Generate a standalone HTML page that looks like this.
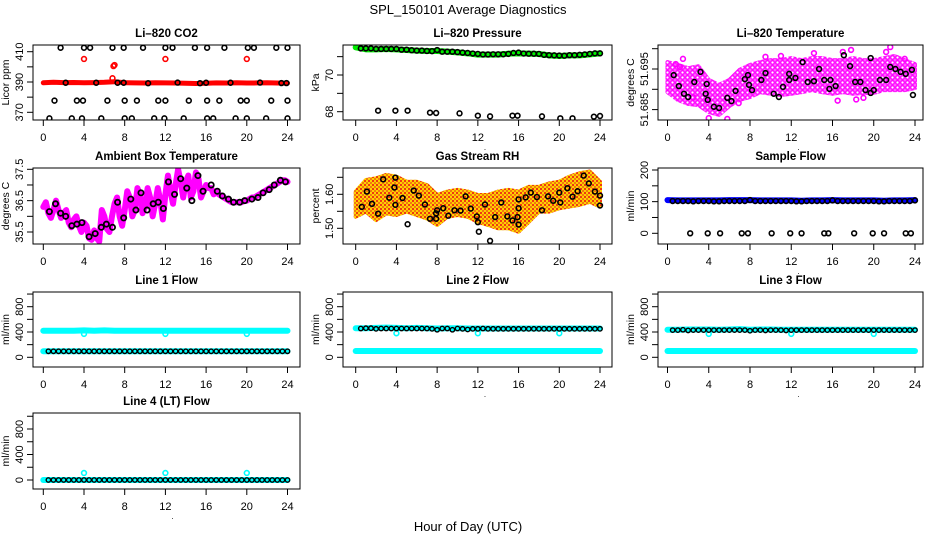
<!DOCTYPE html>
<html><head><meta charset="utf-8"><title>SPL_150101 Average Diagnostics</title>
<style>
html,body{margin:0;padding:0;background:#fff;}
svg{display:block;font-family:"Liberation Sans",Arial,sans-serif;}
</style></head>
<body>
<svg id="chart" width="936" height="540" viewBox="0 0 936 540" xmlns="http://www.w3.org/2000/svg">
<defs>
<pattern id="pat-magenta" width="5" height="5" patternUnits="userSpaceOnUse">
<rect width="5" height="5" fill="#ff66ff"/>
<circle cx="2.5" cy="2.5" r="1.8" fill="#fff" stroke="#ff00ff" stroke-width="1.3"/>
</pattern>
<pattern id="pat-orange" width="4" height="4" patternUnits="userSpaceOnUse">
<rect width="4" height="4" fill="#ffd000"/>
<rect x="0" y="0" width="2" height="2" fill="#ee3a10"/>
<rect x="2" y="2" width="2" height="2" fill="#f07a10"/>
</pattern>
</defs>
<text x="468" y="14" text-anchor="middle" font-size="13">SPL_150101  Average Diagnostics</text>
<text x="468" y="531" text-anchor="middle" font-size="13">Hour of Day (UTC)</text>
</svg>
<script>
// ---------- data ----------
const xTicks=[0,4,8,12,16,20,24];
const halfHours=[0.5,1,1.5,2,2.5,3,3.5,4,4.5,5,5.5,6,6.5,7,7.5,8,8.5,9,9.5,10,10.5,11,11.5,12,12.5,13,13.5,14,14.5,15,15.5,16,16.5,17,17.5,18,18.5,19,19.5,20,20.5,21,21.5,22,22.5,23,23.5,24];
const hours=[0,1,2,3,4,5,6,7,8,9,10,11,12,13,14,15,16,17,18,19,20,21,22,23,24];

// CO2
const co2Red=[389.5,389.8,389.6,389.7,389.5,389.6,389.8,390.2,389.5,389.4,389.3,389.5,389.4,389.3,389.2,389.0,389.2,389.4,389.3,389.5,389.3,389.4,389.5,389.3,389.2];
const co2RedOutHours=[4,12,20,6.9,7.0,6.8];
const co2RedOutVals=[405.2,405.2,405.2,400.5,401.2,392.5];
const co2BlkHours=[1.7,4.0,4.6,6.8,7.9,9.8,12.0,12.7,14.9,16.1,17.8,20.1,20.7,22.9,24.0, 2.2,5.2,7.3,7.9,10.3,13.2,15.4,16.0,18.4,21.3,23.4,23.9, 1.1,3.3,3.9,6.3,8.0,9.2,11.3,12.0,14.3,16.1,17.3,19.4,20.0,22.4,24.0, 0.6,2.8,3.8,5.7,8.0,8.7,10.9,11.9,13.8,16.1,16.7,18.9,20.0,21.9,24.0];
const co2BlkVals=[412.6,412.6,412.6,412.6,412.6,412.6,412.6,412.6,412.6,412.6,412.6,412.6,412.6,412.6,412.6, 389.5,389.5,389.5,389.5,389.2,389.6,389.2,389.5,389.5,389.6,389.3,389.3, 377.7,377.7,377.7,377.7,377.7,377.7,377.7,377.7,377.7,377.7,377.7,377.7,377.7,377.7,377.7, 366,366,366,366,366,366,366,366,366,366,366,366,366,366,366];

// Pressure
const presGreen=[71.508,71.399,71.399,71.417,71.399,71.362,71.326,71.308,71.308,71.271,71.235,71.181,71.108,71.108,71.108,71.162,71.181,71.162,71.144,71.072,71.035,71.072,71.072,71.126,71.181];
const presBlkBand=[71.45,71.45,71.45,71.42,71.42,71.42,71.42,71.42,71.38,71.38,71.35,71.33,71.33,71.31,71.30,71.36,71.27,71.27,71.27,71.25,71.22,71.20,71.17,71.15,71.12,71.12,71.13,71.13,71.13,71.15,71.20,71.22,71.17,71.16,71.16,71.15,71.10,71.08,71.07,71.06,71.05,71.08,71.08,71.10,71.12,71.15,71.18,71.18];
const presLowHours=[2.2,3.9,5.1,7.3,7.9,10.2,12.0,13.2,15.4,15.9,18.3,20.1,21.3,23.4,24.0];
const presLowVals=[68.056,68.056,68.056,67.947,67.929,67.911,67.784,67.747,67.784,67.784,67.747,67.639,67.639,67.729,67.765];

// Li-820 temperature
const ltLow=[51.6893,51.6874,51.6864,51.6861,51.6844,51.6837,51.6859,51.6874,51.6881,51.6893,51.6889,51.6886,51.6889,51.6893,51.6898,51.6893,51.6889,51.6893,51.6889,51.6891,51.6891,51.6898,51.6898,51.6898,51.6903];
const ltHigh=[51.6967,51.6960,51.6952,51.6957,51.6923,51.6911,51.6923,51.6948,51.6960,51.6967,51.6972,51.6972,51.6977,51.6972,51.6977,51.6977,51.6972,51.6972,51.6977,51.6972,51.6972,51.6977,51.6982,51.6972,51.6962];
const ltOutHours=[0.8,1.5,4.0,5.8,9.5,11.0,14.2,17.0,17.8,21.6,21.2,23.0,1.2,2.5,6.9,16.5,18.3,19.0];
const ltOutVals=[51.6962,51.6975,51.6829,51.6827,51.6980,51.6982,51.6989,51.6992,51.6997,51.7004,51.6992,51.6975,51.6955,51.6880,51.6866,51.6872,51.6875,51.6879];
const ltBlkHours=[0.6,1.1,1.6,2.0,2.6,3.2,3.7,3.8,3.9,4.5,5.0,5.8,6.2,6.6,7.5,7.8,7.9,8.2,9.1,9.5,10.3,10.8,11.2,11.8,11.8,12.4,13.1,13.6,14.2,14.7,15.2,15.8,15.7,16.3,17.1,17.7,18.2,18.7,19.2,19.7,19.7,20.0,20.6,21.2,21.6,22.1,22.6,23.1,23.7,23.8];
const ltBlkVals=[51.6935,51.6908,51.6889,51.6881,51.6918,51.6943,51.6889,51.6913,51.6874,51.6857,51.6854,51.6879,51.6871,51.6896,51.6925,51.6935,51.6911,51.6898,51.6923,51.6940,51.6889,51.6881,51.6906,51.6923,51.6938,51.6928,51.6967,51.6918,51.6920,51.6950,51.6923,51.6923,51.6901,51.6908,51.6984,51.6957,51.6918,51.6918,51.6898,51.6977,51.6891,51.6898,51.6923,51.6923,51.6955,51.6950,51.6943,51.6938,51.6948,51.6886];

// Ambient box temperature (quarter-hour)
const ambPink=[36.3,36.45,36.1,35.95,36.2,36.5,36.2,35.95,36.1,36.2,35.8,35.65,35.9,36.0,35.7,35.5,35.8,35.7,35.3,35.25,35.55,35.3,35.2,36.2,36.0,35.6,35.5,36.0,36.4,36.6,36.0,35.7,36.2,36.8,36.6,36.0,36.2,36.9,36.7,36.1,36.3,36.9,36.6,36.0,36.4,36.9,36.5,35.9,36.7,37.3,36.8,36.4,37.0,37.5,37.1,36.6,37.1,37.3,36.6,36.8,37.4,37.2,36.6,36.8,37.0,36.9,36.9,36.7,36.8,36.7,36.65,36.6,36.55,36.5,36.45,36.45,36.45,36.45,36.45,36.5,36.5,36.55,36.6,36.6,36.65,36.7,36.75,36.8,36.85,36.9,36.95,37.0,37.05,37.1,37.15,37.15,37.1];
const ambBlkHours=[0.6,1.2,1.7,2.2,2.8,3.3,3.8,4.5,5.1,5.7,6.2,6.8,7.3,7.9,8.6,9.1,9.6,10.2,10.8,11.3,11.8,12.3,12.9,13.5,14.1,14.6,15.2,15.7,16.5,17.1,17.6,18.2,18.7,19.3,19.8,20.5,21.1,21.6,22.2,22.7,23.3,23.8];
const ambBlkVals=[36.15,36.4,36.1,36.0,35.7,35.75,35.8,35.35,35.45,35.65,35.75,35.65,36.45,35.95,36.55,36.2,36.75,36.2,36.4,36.45,36.25,37.1,36.7,37.2,36.9,36.5,37.3,36.8,37.0,36.8,36.65,36.55,36.45,36.45,36.5,36.55,36.6,36.75,36.85,37.0,37.15,37.1];

// Gas stream RH
const rhHigh=[1.608,1.642,1.647,1.657,1.652,1.637,1.637,1.627,1.598,1.608,1.613,1.608,1.598,1.598,1.608,1.613,1.608,1.622,1.622,1.632,1.637,1.652,1.662,1.667,1.637];
const rhLow=[1.534,1.549,1.524,1.544,1.539,1.549,1.539,1.529,1.510,1.534,1.539,1.534,1.519,1.510,1.500,1.500,1.490,1.519,1.549,1.549,1.559,1.564,1.569,1.578,1.564];
const rhBlkHours=[0.6,1.1,1.6,2.2,2.7,3.3,3.8,3.9,3.9,4.6,5.1,5.7,6.2,6.8,7.3,7.9,7.9,8.0,8.6,9.1,9.7,10.3,10.8,11.3,11.9,12.0,12.1,12.7,13.2,13.7,14.3,14.9,15.4,15.9,16.0,16.0,16.0,16.7,17.8,17.2,18.3,18.9,19.4,20.0,20.1,20.8,21.3,21.8,22.4,22.9,23.5,24.0,24.0];
const rhBlkVals=[1.563,1.608,1.572,1.543,1.644,1.590,1.620,1.649,1.569,1.589,1.512,1.611,1.596,1.570,1.528,1.544,1.528,1.553,1.559,1.537,1.553,1.552,1.594,1.558,1.535,1.518,1.490,1.570,1.463,1.533,1.576,1.535,1.523,1.533,1.511,1.559,1.585,1.591,1.592,1.605,1.553,1.594,1.581,1.605,1.576,1.618,1.593,1.609,1.655,1.632,1.608,1.596,1.567];

// Sample flow
const sfBlue=[105,104,104,104,104,104,105,105,105,104,104,104,104,103,104,104,105,104,104,104,104,103,104,104,105];
const sfBlkBand=[102,102,102,102,101,102,102,102,101,101,102,102,102,102,102,105,102,102,102,102,102,102,102,102,101,101,102,102,102,102,102,104,102,102,102,102,102,102,102,102,101,101,102,102,102,102,102,104];
const sfZeroHours=[2.2,3.9,5.1,7.2,7.8,10.1,11.9,13.0,15.2,15.6,18.1,19.9,21.0,23.1,23.6];
const sfZeroVals=[0,0,0,0,0,0,0,0,0,0,0,0,0,0,0];

// Line flows
const l1Upper=[420,420,420,420,425,420,425,420,420,420,420,420,420,420,420,420,420,420,420,420,420,420,420,420,420];
const l1Lower=[95,95,95,95,95,95,95,95,95,95,95,95,95,95,95,95,95,95,95,95,95,95,95,95,95];
const l1Blk=[95,95,95,95,95,95,95,95,95,95,95,95,95,95,95,95,95,95,95,95,95,95,95,95,95,95,95,95,95,95,95,95,95,95,95,95,95,95,95,95,95,95,95,95,95,95,95,95];
const l2Upper=[460,460,465,470,465,460,465,460,455,460,460,455,455,455,455,455,455,455,455,455,455,455,455,455,455];
const l2Lower=[100,100,100,100,100,100,100,100,100,100,100,100,100,100,100,100,100,100,100,100,100,100,100,100,100];
const l2Blk=[455,460,460,450,455,455,455,455,455,455,455,455,455,455,450,435,455,455,435,455,450,440,450,450,455,450,450,450,450,450,450,450,450,450,450,450,450,450,450,450,450,450,450,450,450,450,450,450];
const l3Upper=[435,435,440,440,440,435,440,445,435,440,440,435,435,435,435,435,435,435,435,435,435,435,435,435,435];
const l3Lower=[100,100,100,100,100,100,100,100,100,100,100,100,100,100,100,100,100,100,100,100,100,100,100,100,100];
const l3Blk=[430,430,435,425,430,430,430,430,430,430,430,430,430,430,430,420,430,430,425,430,430,430,425,430,430,430,430,430,430,430,430,430,430,430,430,430,430,430,430,430,430,430,430,430,430,430,430,430];
const l4Base=[0,0,0,0,0,0,0,0,0,0,0,0,0,0,0,0,0,0,0,0,0,0,0,0,0];
const l4Blk=[0,0,0,0,0,0,0,0,0,0,0,0,0,0,0,0,0,0,0,0,0,0,0,0,0,0,0,0,0,0,0,0,0,0,0,0,0,0,0,0,0,0,0,0,0,0,0,0];
const dipHours=[4,12,20];
const l1Dips=[370,370,370];
const l2Dips=[380,380,380];
const l3Dips=[370,370,370];
const l4Bumps=[110,110,110];

// ---------- drawing ----------
const NS='http://www.w3.org/2000/svg';
const svg=document.getElementById('chart');
const cols=[{b0:33,b1:300,t0:43.3,t24:287.5},{b0:343,b1:612,t0:355.7,t24:600},{b0:658,b1:923,t0:667.5,t24:915}];
const rows=[{y0:45,y1:120},{y0:168,y1:244},{y0:292,y1:367},{y0:413,y1:489}];
function el(tag,parent){const e=document.createElementNS(NS,tag);parent.appendChild(e);return e;}
function set(e,o){for(const k in o)e.setAttribute(k,o[k]);return e;}

function panel(id,title,ylab,col,row,v1,p1,v2,p2,ticks,labels,fmt){
  const c=cols[col],r=rows[row];
  const g=el('g',svg);
  
  
  const X=h=>c.t0+h*(c.t24-c.t0)/24;
  const Y=v=>p1+(v-v1)*(p2-p1)/(v2-v1);
  const clipId='clip-'+id;
  const cp=el('clipPath',g);cp.setAttribute('id',clipId);
  set(el('rect',cp),{x:c.b0,y:r.y0,width:c.b1-c.b0,height:r.y1-r.y0});
  const data=el('g',g);data.setAttribute('clip-path','url(#'+clipId+')');
  
  
  const box=el('rect',g);
  set(box,{x:c.b0,y:r.y0,width:c.b1-c.b0,height:r.y1-r.y0,fill:'none',stroke:'#000','stroke-width':1});
  
  
  const t=el('text',g);
  set(t,{x:(c.b0+c.b1)/2,y:r.y0-8,'text-anchor':'middle','font-size':11.5,'font-weight':'bold'});
  t.textContent=title;
  
  
  const xa=el('g',g);
  
  
  xTicks.forEach(h=>{
    set(el('line',xa),{x1:X(h),x2:X(h),y1:r.y1,y2:r.y1+6,stroke:'#000'});
    const lt=el('text',xa);
    set(lt,{x:X(h),y:r.y1+21,'text-anchor':'middle','font-size':11});
    lt.textContent=String(h);
    
    
  });
  const dot=el('text',xa);set(dot,{x:X(12)+6,y:r.y1+30,'font-size':8});dot.textContent='.';
  const ya=el('g',g);
  
  
  ticks.forEach(v=>{set(el('line',ya),{x1:c.b0-6,x2:c.b0,y1:Y(v),y2:Y(v),stroke:'#000'});});
  set(el('line',ya),{x1:c.b0,x2:c.b0,y1:Y(ticks[0]),y2:Y(ticks[ticks.length-1]),stroke:'#000'});
  labels.forEach(v=>{
    const lt=el('text',ya);
    const x=c.b0-10,y=Y(v);
    set(lt,{x:x,y:y,'text-anchor':'middle','font-size':11,transform:'rotate(-90 '+x+' '+y+')'});
    lt.textContent=fmt?fmt(v):String(v);
    
    
  });
  const yl=el('text',g);
  const yx=c.b0-24,yy=(r.y0+r.y1)/2;
  set(yl,{x:yx,y:yy,'text-anchor':'middle','font-size':10.5,transform:'rotate(-90 '+yx+' '+yy+')'});
  yl.textContent=ylab;
  
  
  return {X,Y,g:data};
}
function dots(p,xs,ys,color,name,r,sw){
  const g=el('g',p.g);
  
  
  xs.forEach((h,i)=>{
    const c=el('circle',g);
    set(c,{cx:p.X(h),cy:p.Y(ys[i]),r:r||2.4,fill:'none',stroke:color,'stroke-width':sw||1.6});
  });
}
function band(p,xs,ys,color,w,name){
  const pl=el('polyline',p.g);
  set(pl,{points:xs.map((h,i)=>p.X(h)+','+p.Y(ys[i])).join(' '),fill:'none',stroke:color,'stroke-width':w,'stroke-linejoin':'round','stroke-linecap':'round'});
  
  
}
function area(p,xs,lo,hi,color,name){
  const pts=xs.map((h,i)=>p.X(h)+','+p.Y(hi[i])).concat(xs.slice().reverse().map((h,j)=>p.X(h)+','+p.Y(lo[xs.length-1-j])));
  const pg=el('polygon',p.g);
  set(pg,{points:pts.join(' '),fill:color,stroke:color,'stroke-width':4,'stroke-linejoin':'round'});
  
  
}
const f3=v=>v.toFixed(3), f2=v=>v.toFixed(2), f1=v=>v.toFixed(1);

let p=panel('co2','Li\u2013820 CO2','Licor ppm',0,0,410,51.7,370,112.3,[370,380,390,400,410],[370,390,410]);
band(p,hours,co2Red,'#ff0000',5,'co2-red-series');
dots(p,co2RedOutHours,co2RedOutVals,'#ff0000','co2-red-outliers');
dots(p,co2BlkHours,co2BlkVals,'#000','co2-black-series');

p=panel('pressure','Li\u2013820 Pressure','kPa',1,0,70,75,68,111.7,[68,69,70,71],[68,70]);
band(p,hours,presGreen,'#00ee00',6,'pressure-green-series');
dots(p,halfHours,presBlkBand,'#000','pressure-black-series');
dots(p,presLowHours,presLowVals,'#000','pressure-low-points');

p=panel('licor-temp','Li\u2013820 Temperature','degrees C',2,0,51.695,69,51.685,109.6,[51.685,51.690,51.695,51.700],[51.685,51.695],f3);
area(p,hours,ltLow,ltHigh,'url(#pat-magenta)','licor-temp-magenta-cloud');
dots(p,ltOutHours,ltOutVals,'#ff00ff','licor-temp-magenta-outliers');
dots(p,ltBlkHours,ltBlkVals,'#000','licor-temp-black-series');

p=panel('ambient','Ambient Box Temperature','degrees C',0,1,37.5,169.3,35.5,232,[35.5,36,36.5,37,37.5],[35.5,36.5,37.5],f1);
band(p,ambPink.map((v,i)=>i/4),ambPink,'#ff00ff',6,'ambient-magenta-series');
dots(p,ambBlkHours,ambBlkVals,'#000','ambient-black-series',2.6,1.8);

p=panel('gas-rh','Gas Stream RH','percent',1,1,1.60,194.3,1.50,228.3,[1.50,1.55,1.60,1.65],[1.50,1.60],f2);
area(p,hours,rhLow,rhHigh,'url(#pat-orange)','gas-rh-orange-cloud');
dots(p,rhBlkHours,rhBlkVals,'#000','gas-rh-black-series');

p=panel('sample-flow','Sample Flow','ml/min',2,1,200,170,0,233.3,[0,50,100,150,200],[0,100,200]);
band(p,hours,sfBlue,'#0000ff',6,'sample-flow-blue-series');
dots(p,halfHours,sfBlkBand,'#000','sample-flow-black-series');
dots(p,sfZeroHours,sfZeroVals,'#000','sample-flow-zero-points');

const lt=[0,200,400,600,800,1000], ll=[0,400,800];
p=panel('line1','Line 1 Flow','ml/min',0,2,0,357.3,800,306.7,lt,ll);
band(p,hours,l1Upper,'#00ffff',6,'line1-cyan-upper');
dots(p,dipHours,l1Dips,'#00ffff','line1-cyan-dips');
band(p,hours,l1Lower,'#00ffff',6,'line1-cyan-lower');
dots(p,halfHours,l1Blk,'#000','line1-black-series',2.2,1.4);

p=panel('line2','Line 2 Flow','ml/min',1,2,0,357.3,800,306.7,lt,ll);
band(p,hours,l2Upper,'#00ffff',6,'line2-cyan-upper');
dots(p,dipHours,l2Dips,'#00ffff','line2-cyan-dips');
band(p,hours,l2Lower,'#00ffff',6,'line2-cyan-lower');
dots(p,halfHours,l2Blk,'#000','line2-black-series',2.2,1.4);

p=panel('line3','Line 3 Flow','ml/min',2,2,0,357.3,800,306.7,lt,ll);
band(p,hours,l3Upper,'#00ffff',6,'line3-cyan-upper');
dots(p,dipHours,l3Dips,'#00ffff','line3-cyan-dips');
band(p,hours,l3Lower,'#00ffff',6,'line3-cyan-lower');
dots(p,halfHours,l3Blk,'#000','line3-black-series',2.2,1.4);

p=panel('line4','Line 4 (LT) Flow','ml/min',0,3,0,480,800,429,lt,ll);
band(p,hours,l4Base,'#00ffff',6,'line4-cyan-series');
dots(p,dipHours,l4Bumps,'#00ffff','line4-cyan-bumps');
dots(p,halfHours,l4Blk,'#000','line4-black-series',2.2,1.4);
</script>
</body></html>
